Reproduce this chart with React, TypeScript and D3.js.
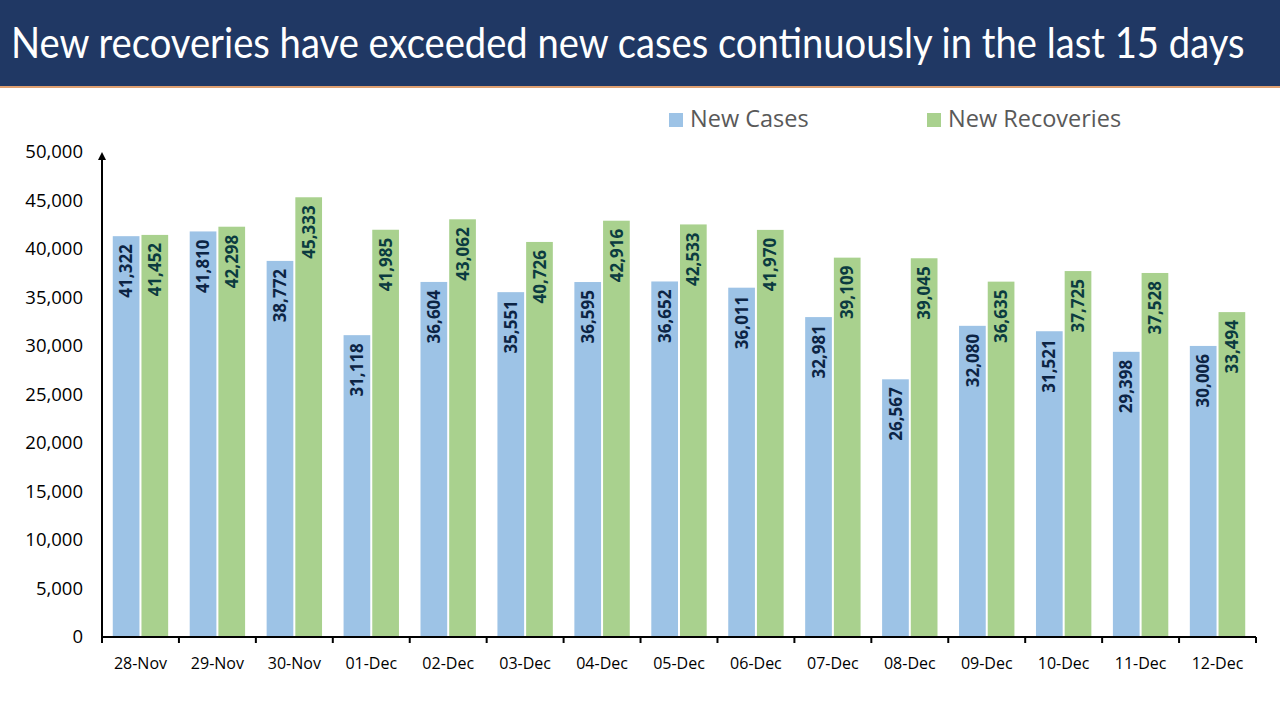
import React, { useEffect, useRef, useState } from "react";
import * as d3 from "d3";

const categories = ["28-Nov","29-Nov","30-Nov","01-Dec","02-Dec","03-Dec","04-Dec","05-Dec","06-Dec","07-Dec","08-Dec","09-Dec","10-Dec","11-Dec","12-Dec"];
const newCases = [41322,41810,38772,31118,36604,35551,36595,36652,36011,32981,26567,32080,31521,29398,30006];
const newRecoveries = [41452,42298,45333,41985,43062,40726,42916,42533,41970,39109,39045,36635,37725,37528,33494];
const yTicks = [0,5000,10000,15000,20000,25000,30000,35000,40000,45000,50000];
const seriesNames = ["New Cases", "New Recoveries"];
const title = "New recoveries have exceeded new cases continuously in the last 15 days";

const W = 1280, H = 720;
const left = 102, right = 1256, top = 152, bottom = 637;
const blue = "#9dc3e6", green = "#a9d18e";

export default function App() {
  const titleRef = useRef<SVGTextElement>(null);
  const [sx, setSx] = useState(1);
  useEffect(() => {
    if (titleRef.current) {
      const w = titleRef.current.getBBox().width;
      if (w > 0) setSx(1234 / w);
    }
  }, []);

  const x = d3.scaleBand<string>().domain(categories).range([left, right]).paddingInner(0.28).paddingOuter(0.14);
  const y = d3.scaleLinear().domain([0, 50000]).range([bottom, top]);
  const fmt = d3.format(",");
  const bw = x.bandwidth();
  const gap = 2;
  const barW = (bw - gap) / 2;
  const step = (right - left) / categories.length;
  const font = "'Open Sans', 'DejaVu Sans', sans-serif";

  return (
    <svg width={W} height={H} style={{ position: "fixed", left: 0, top: 0, background: "#fff" }}>
      <rect x={0} y={0} width={W} height={86} fill="#203864" />
      <rect x={0} y={86} width={W} height={2} fill="#e0a070" />
      <g transform={`translate(11,58) scale(${sx},1)`}>
        <text ref={titleRef} x={0} y={0} fill="#fff" fontFamily="'Lato', 'Open Sans', sans-serif" fontSize={42}>
          {title}
        </text>
      </g>

      {/* legend */}
      <rect x={669} y={113} width={14} height={14} fill={blue} />
      <text x={690} y={127} fontFamily={font} fontSize={23.5} fill="#595959">{seriesNames[0]}</text>
      <rect x={927} y={113} width={14} height={14} fill={green} />
      <text x={948} y={127} fontFamily={font} fontSize={23.5} fill="#595959">{seriesNames[1]}</text>

      {/* y tick labels */}
      {yTicks.map(t => (
        <text key={t} x={83} y={y(t)} dy="0.35em" textAnchor="end" fontFamily={font} fontSize={18.5} fill="#000">{fmt(t)}</text>
      ))}

      {/* bars */}
      {categories.map((c, i) => {
        const x0 = x(c)!;
        const xc = x0 + barW / 2;
        const xr = x0 + barW + gap;
        const xrc = xr + barW / 2;
        return (
          <g key={c}>
            <rect x={x0} y={y(newCases[i])} width={barW} height={bottom - y(newCases[i])} fill={blue} />
            <rect x={xr} y={y(newRecoveries[i])} width={barW} height={bottom - y(newRecoveries[i])} fill={green} />
            <text transform={`translate(${xc},${y(newCases[i]) + 8}) rotate(-90)`} textAnchor="end" dy="0.36em"
              fontFamily={font} fontWeight="bold" fontSize={17} fill="#0c2444">{fmt(newCases[i])}</text>
            <text transform={`translate(${xrc},${y(newRecoveries[i]) + 8}) rotate(-90)`} textAnchor="end" dy="0.36em"
              fontFamily={font} fontWeight="bold" fontSize={17} fill="#0b3b40">{fmt(newRecoveries[i])}</text>
            <text x={x0 + bw / 2} y={669} textAnchor="middle" fontFamily={font} fontSize={16} fill="#000">{c}</text>
          </g>
        );
      })}

      {/* axes */}
      <line x1={left} y1={bottom} x2={right} y2={bottom} stroke="#000" strokeWidth={2} />
      {d3.range(categories.length + 1).map(k => (
        <line key={k} x1={left + k * step} y1={bottom} x2={left + k * step} y2={bottom + 6} stroke="#000" strokeWidth={2} />
      ))}
      <line x1={left} y1={bottom + 1} x2={left} y2={top + 4} stroke="#000" strokeWidth={2} />
      <path d={`M${left - 4},${top + 8} L${left},${top} L${left + 4},${top + 8} Z`} fill="#000" />
    </svg>
  );
}
